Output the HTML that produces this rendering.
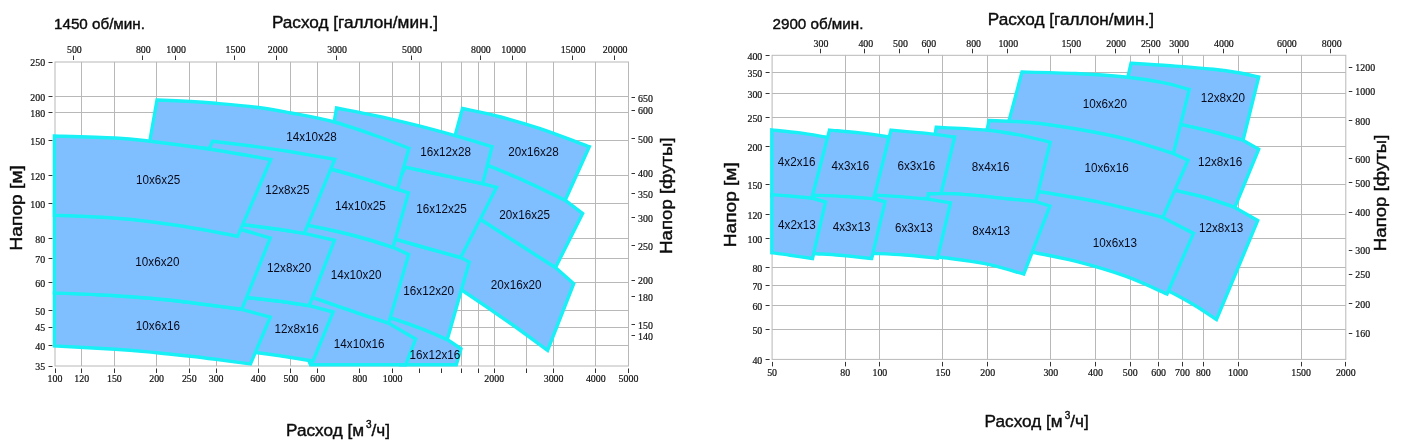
<!DOCTYPE html>
<html lang="ru"><head><meta charset="utf-8"><title>Расход / Напор</title>
<style>html,body{margin:0;padding:0;background:#fff}svg{display:block}</style></head>
<body>
<svg width="1402" height="442" viewBox="0 0 1402 442">
<rect width="1402" height="442" fill="#fff"/>
<path d="M81.5 62.0V366.0M114.5 62.0V366.0M156.5 62.0V366.0M189.5 62.0V366.0M216.5 62.0V366.0M258.5 62.0V366.0M290.5 62.0V366.0M317.5 62.0V366.0M359.5 62.0V366.0M392.5 62.0V366.0M419.5 62.0V366.0M441.5 62.0V366.0M461.5 62.0V366.0M478.5 62.0V366.0M494.5 62.0V366.0M526.5 62.0V366.0M553.5 62.0V366.0M595.5 62.0V366.0M55.0 345.5H628.5M55.0 327.5H628.5M55.0 310.5H628.5M55.0 282.5H628.5M55.0 258.5H628.5M55.0 238.5H628.5M55.0 203.5H628.5M55.0 175.5H628.5M55.0 140.5H628.5M55.0 112.5H628.5M55.0 96.5H628.5" stroke="#b8b8b8" stroke-width="1" fill="none"/>
<rect x="55.0" y="62.0" width="573.5" height="304.0" fill="none" stroke="#b8b8b8" stroke-width="1"/>
<path d="M55.5 368.5v4.5M81.5 368.5v4.5M114.5 368.5v4.5M156.5 368.5v4.5M189.5 368.5v4.5M216.5 368.5v4.5M258.5 368.5v4.5M290.5 368.5v4.5M317.5 368.5v4.5M359.5 368.5v4.5M392.5 368.5v4.5M494.5 368.5v4.5M553.5 368.5v4.5M595.5 368.5v4.5M628.5 368.5v4.5M419.5 368.5v4.5M441.5 368.5v4.5M461.5 368.5v4.5M478.5 368.5v4.5M526.5 368.5v4.5M73.5 60.0v-4.5M142.5 60.0v-4.5M175.5 60.0v-4.5M234.5 60.0v-4.5M276.5 60.0v-4.5M336.5 60.0v-4.5M411.5 60.0v-4.5M480.5 60.0v-4.5M512.5 60.0v-4.5M572.5 60.0v-4.5M614.5 60.0v-4.5M52.5 366.5h-4M52.5 345.5h-4M52.5 327.5h-4M52.5 310.5h-4M52.5 282.5h-4M52.5 258.5h-4M52.5 238.5h-4M52.5 203.5h-4M52.5 175.5h-4M52.5 140.5h-4M52.5 112.5h-4M52.5 96.5h-4M52.5 62.5h-4M631.5 335.5h3.5M631.5 324.5h3.5M631.5 296.5h3.5M631.5 280.5h3.5M631.5 245.5h3.5M631.5 217.5h3.5M631.5 193.5h3.5M631.5 173.5h3.5M631.5 138.5h3.5M631.5 110.5h3.5M631.5 97.5h3.5" stroke="#333" stroke-width="1" fill="none"/>
<g font-family="'Liberation Serif','DejaVu Serif',serif" font-size="9.9" fill="#111" stroke="#111" stroke-width="0.2">
<text transform="translate(55.0 382.3) scale(1 1.12)" text-anchor="middle">100</text>
<text transform="translate(81.7 382.3) scale(1 1.12)" text-anchor="middle">120</text>
<text transform="translate(114.4 382.3) scale(1 1.12)" text-anchor="middle">150</text>
<text transform="translate(156.6 382.3) scale(1 1.12)" text-anchor="middle">200</text>
<text transform="translate(189.3 382.3) scale(1 1.12)" text-anchor="middle">250</text>
<text transform="translate(216.1 382.3) scale(1 1.12)" text-anchor="middle">300</text>
<text transform="translate(258.2 382.3) scale(1 1.12)" text-anchor="middle">400</text>
<text transform="translate(290.9 382.3) scale(1 1.12)" text-anchor="middle">500</text>
<text transform="translate(317.7 382.3) scale(1 1.12)" text-anchor="middle">600</text>
<text transform="translate(359.8 382.3) scale(1 1.12)" text-anchor="middle">800</text>
<text transform="translate(392.6 382.3) scale(1 1.12)" text-anchor="middle">1000</text>
<text transform="translate(494.2 382.3) scale(1 1.12)" text-anchor="middle">2000</text>
<text transform="translate(553.6 382.3) scale(1 1.12)" text-anchor="middle">3000</text>
<text transform="translate(595.8 382.3) scale(1 1.12)" text-anchor="middle">4000</text>
<text transform="translate(628.5 382.3) scale(1 1.12)" text-anchor="middle">5000</text>
<text transform="translate(74.4 53.2) scale(1 1.12)" text-anchor="middle">500</text>
<text transform="translate(143.3 53.2) scale(1 1.12)" text-anchor="middle">800</text>
<text transform="translate(176.1 53.2) scale(1 1.12)" text-anchor="middle">1000</text>
<text transform="translate(235.5 53.2) scale(1 1.12)" text-anchor="middle">1500</text>
<text transform="translate(277.7 53.2) scale(1 1.12)" text-anchor="middle">2000</text>
<text transform="translate(337.1 53.2) scale(1 1.12)" text-anchor="middle">3000</text>
<text transform="translate(412.0 53.2) scale(1 1.12)" text-anchor="middle">5000</text>
<text transform="translate(480.9 53.2) scale(1 1.12)" text-anchor="middle">8000</text>
<text transform="translate(513.6 53.2) scale(1 1.12)" text-anchor="middle">10000</text>
<text transform="translate(573.1 53.2) scale(1 1.12)" text-anchor="middle">15000</text>
<text transform="translate(615.2 53.2) scale(1 1.12)" text-anchor="middle">20000</text>
<text transform="translate(45.2 370.3) scale(1 1.12)" text-anchor="end">35</text>
<text transform="translate(45.2 349.7) scale(1 1.12)" text-anchor="end">40</text>
<text transform="translate(45.2 331.4) scale(1 1.12)" text-anchor="end">45</text>
<text transform="translate(45.2 315.2) scale(1 1.12)" text-anchor="end">50</text>
<text transform="translate(45.2 287.0) scale(1 1.12)" text-anchor="end">60</text>
<text transform="translate(45.2 263.1) scale(1 1.12)" text-anchor="end">70</text>
<text transform="translate(45.2 242.5) scale(1 1.12)" text-anchor="end">80</text>
<text transform="translate(45.2 208.0) scale(1 1.12)" text-anchor="end">100</text>
<text transform="translate(45.2 179.8) scale(1 1.12)" text-anchor="end">120</text>
<text transform="translate(45.2 145.3) scale(1 1.12)" text-anchor="end">150</text>
<text transform="translate(45.2 117.1) scale(1 1.12)" text-anchor="end">180</text>
<text transform="translate(45.2 100.8) scale(1 1.12)" text-anchor="end">200</text>
<text transform="translate(45.2 66.3) scale(1 1.12)" text-anchor="end">250</text>
<text transform="translate(638.0 339.5) scale(1 1.12)">140</text>
<text transform="translate(638.0 328.8) scale(1 1.12)">150</text>
<text transform="translate(638.0 300.6) scale(1 1.12)">180</text>
<text transform="translate(638.0 284.3) scale(1 1.12)">200</text>
<text transform="translate(638.0 249.8) scale(1 1.12)">250</text>
<text transform="translate(638.0 221.6) scale(1 1.12)">300</text>
<text transform="translate(638.0 197.8) scale(1 1.12)">350</text>
<text transform="translate(638.0 177.1) scale(1 1.12)">400</text>
<text transform="translate(638.0 142.6) scale(1 1.12)">500</text>
<text transform="translate(638.0 114.4) scale(1 1.12)">600</text>
<text transform="translate(638.0 102.1) scale(1 1.12)">650</text>
</g>
<clipPath id="cl"><rect x="52.0" y="59.0" width="579.5" height="308.2"/></clipPath>
<g clip-path="url(#cl)" fill="#80bfff" stroke="#18f0f5" stroke-width="3.4" stroke-linejoin="miter">
<path d="" stroke="none"/>
<path d="M450.0 200.0 C455.3 203.4 470.6 213.0 482.0 220.3 C493.4 227.6 506.2 235.9 518.5 243.8 C530.8 251.7 549.3 263.6 555.5 267.5 L573.7 283.7 L547.6 350.3 C541.3 345.8 524.1 332.9 510.0 323.0 C495.9 313.1 474.9 298.8 463.2 291.0 C451.5 283.2 443.9 278.5 440.0 276.0Z"/>
<path d="M451.0 150.5 C457.2 153.0 475.9 160.3 488.2 165.4 C500.5 170.5 512.2 175.2 525.0 181.0 C537.8 186.8 558.5 197.1 565.2 200.3 L582.6 213.5 L555.5 267.5 C549.3 263.6 530.8 251.7 518.5 243.8 C506.2 235.9 493.4 227.6 482.0 220.3 C470.6 213.0 455.3 203.4 450.0 200.0Z"/>
<path d="M462.5 108.5 C468.9 109.9 488.2 113.7 500.9 117.0 C513.6 120.3 523.8 123.2 538.5 128.2 C553.2 133.1 580.8 143.6 589.3 146.7 L565.2 200.3 C558.5 197.1 537.8 186.8 525.0 181.0 C512.2 175.2 500.5 170.5 488.2 165.4 C475.9 160.3 457.2 153.0 451.0 150.5Z"/>
<path d="M360.0 307.0 C365.6 309.0 383.9 315.3 393.9 318.8 C403.9 322.3 411.1 324.6 420.0 328.0 C428.9 331.4 442.8 337.6 447.3 339.5 L461.0 348.8 L456.3 364.7 C446.9 364.7 409.4 364.7 400.0 364.7Z"/>
<path d="M370.0 232.0 C374.5 233.3 387.1 236.9 397.1 239.7 C407.1 242.5 419.4 246.0 430.0 249.0 C440.6 252.0 455.6 256.1 460.7 257.5 L469.3 262.0 L447.3 339.5 C442.8 337.6 428.9 331.4 420.0 328.0 C411.1 324.6 403.9 322.3 393.9 318.8 C383.9 315.3 365.6 309.0 360.0 307.0Z"/>
<path d="M405.6 167.2 C413.0 168.8 437.1 173.9 450.0 176.7 C462.9 179.4 477.2 182.5 482.7 183.7 L496.5 187.4 L460.7 257.5 C455.6 256.1 440.6 252.0 430.0 249.0 C419.4 246.0 407.1 242.5 397.1 239.7 C387.1 236.9 374.5 233.3 370.0 232.0Z"/>
<path d="M336.5 108.0 C343.0 109.3 362.6 112.9 375.3 115.6 C388.1 118.3 400.4 121.3 413.0 124.4 C425.6 127.5 437.4 130.7 450.6 134.4 C463.8 138.1 485.1 144.6 492.0 146.7 L482.7 183.7 C477.2 182.5 462.9 179.4 450.0 176.7 C437.1 173.9 425.7 171.6 405.6 167.2 C385.5 162.8 342.2 152.9 329.5 150.0Z"/>
<path d="M280.0 287.0 C285.6 288.8 302.7 294.3 313.6 297.9 C324.5 301.5 332.7 304.5 345.2 308.7 C357.7 312.9 381.4 320.8 388.7 323.2 L415.6 339.0 L405.8 364.7 C389.9 364.7 326.4 364.7 310.5 364.7Z"/>
<path d="M270.0 218.0 C276.4 219.2 297.0 223.0 308.7 225.3 C320.4 227.6 329.8 229.6 340.0 232.0 C350.2 234.4 361.2 237.4 370.0 240.0 C378.8 242.6 389.2 246.1 393.0 247.3 L408.7 254.5 L388.7 323.2 C381.4 320.8 357.7 312.9 345.2 308.7 C332.7 304.5 324.5 301.5 313.6 297.9 C302.7 294.3 285.6 288.8 280.0 287.0Z"/>
<path d="M280.0 157.0 C288.8 159.1 317.6 165.6 332.6 169.5 C347.6 173.4 359.2 177.0 370.0 180.3 C380.8 183.6 392.9 187.8 397.5 189.3 L408.5 192.8 L393.0 247.3 C389.2 246.1 378.8 242.6 370.0 240.0 C361.2 237.4 350.2 234.4 340.0 232.0 C329.8 229.6 320.4 227.6 308.7 225.3 C297.0 223.0 276.4 219.2 270.0 218.0Z"/>
<path d="M157.0 100.0 C162.6 100.2 180.8 101.0 190.6 101.5 C200.4 102.0 204.5 102.3 215.8 103.3 C227.1 104.3 245.9 105.9 258.4 107.5 C270.9 109.1 278.6 110.7 291.0 113.0 C303.4 115.3 318.4 117.8 332.5 121.5 C346.6 125.2 362.6 131.0 375.3 135.5 C388.1 140.0 403.4 146.2 409.0 148.3 L397.5 189.3 C392.9 187.8 380.8 183.6 370.0 180.3 C359.2 177.0 347.6 173.4 332.6 169.5 C317.6 165.6 299.6 160.4 280.0 157.0 C260.4 153.6 236.8 151.3 215.0 149.0 C193.2 146.7 160.4 144.0 149.5 143.0Z"/>
<path d="M200.0 292.0 C208.1 292.9 235.5 296.1 248.8 297.7 C262.1 299.2 269.9 300.0 280.0 301.3 C290.1 302.6 304.3 304.9 309.2 305.6 L333.2 312.0 L313.0 361.0 C308.3 360.2 293.9 357.8 285.0 356.5 C276.1 355.2 270.5 354.3 259.7 353.0 C248.9 351.7 226.6 349.2 220.0 348.5Z"/>
<path d="M180.0 218.0 C190.7 219.1 228.6 223.0 244.4 224.8 C260.2 226.6 265.0 227.4 275.0 228.8 C285.0 230.2 299.4 232.6 304.3 233.3 L334.5 240.3 L309.2 305.6 C304.3 304.9 290.1 302.6 280.0 301.3 C269.9 300.0 262.1 299.2 248.8 297.7 C235.5 296.1 208.1 292.9 200.0 292.0Z"/>
<path d="M212.5 141.3 C219.3 142.1 240.3 144.6 253.4 146.3 C266.5 148.1 277.4 149.6 291.0 151.8 C304.6 154.0 327.5 158.1 334.8 159.3 L304.3 233.3 C299.4 232.6 285.0 230.2 275.0 228.8 C265.0 227.4 260.2 226.6 244.4 224.8 C228.6 223.0 190.7 219.1 180.0 218.0Z"/>
<path d="M54.4 293.0 C62.5 293.3 88.5 294.2 102.8 295.0 C117.1 295.8 127.9 296.5 140.4 297.5 C152.9 298.5 165.4 299.6 178.0 301.0 C190.6 302.4 205.1 304.4 215.7 305.8 C226.3 307.2 237.5 308.7 241.8 309.3 L270.3 317.2 L250.5 364.0 C244.7 363.2 225.8 360.6 215.8 359.3 C205.8 358.0 200.4 357.3 190.6 356.2 C180.8 355.1 169.2 353.8 156.7 352.7 C144.1 351.6 132.3 350.4 115.3 349.3 C98.2 348.2 64.5 346.6 54.4 346.0Z"/>
<path d="M54.4 205.0 C70.3 206.2 123.2 208.9 150.0 212.0 C176.8 215.1 199.3 220.4 215.0 223.5 C230.7 226.6 235.2 228.1 244.4 230.5 C253.6 232.9 266.0 236.8 270.3 238.0 L241.8 309.3 C237.5 308.7 226.3 307.2 215.7 305.8 C205.1 304.4 190.6 302.4 178.0 301.0 C165.4 299.6 152.9 298.5 140.4 297.5 C127.9 296.5 117.1 295.8 102.8 295.0 C88.5 294.2 62.5 293.3 54.4 293.0Z"/>
<path d="M54.4 136.0 C64.5 136.3 99.4 137.2 115.0 138.0 C130.6 138.8 132.2 139.1 148.0 141.0 C163.8 142.9 189.5 146.2 210.0 149.3 C230.5 152.4 260.7 157.8 270.8 159.5 L237.6 236.3 C233.9 235.6 225.6 233.8 215.7 232.0 C205.8 230.2 190.6 227.4 178.0 225.5 C165.4 223.6 152.9 221.9 140.4 220.5 C127.9 219.1 117.1 218.2 102.8 217.3 C88.5 216.4 62.5 215.6 54.4 215.3Z"/>
</g>
<g font-family="'Liberation Sans','DejaVu Sans',sans-serif" font-size="13.3" fill="#0a0a1a" text-anchor="middle">
<text x="158.1" y="184.4" textLength="44.2" lengthAdjust="spacingAndGlyphs">10x6x25</text>
<text x="157.4" y="266.3" textLength="44.2" lengthAdjust="spacingAndGlyphs">10x6x20</text>
<text x="157.9" y="329.5" textLength="44.2" lengthAdjust="spacingAndGlyphs">10x6x16</text>
<text x="287.3" y="193.5" textLength="44.2" lengthAdjust="spacingAndGlyphs">12x8x25</text>
<text x="289.2" y="271.5" textLength="44.2" lengthAdjust="spacingAndGlyphs">12x8x20</text>
<text x="296.7" y="333.0" textLength="44.2" lengthAdjust="spacingAndGlyphs">12x8x16</text>
<text x="311.5" y="141.2" textLength="50.7" lengthAdjust="spacingAndGlyphs">14x10x28</text>
<text x="360.4" y="209.8" textLength="50.7" lengthAdjust="spacingAndGlyphs">14x10x25</text>
<text x="356.1" y="278.7" textLength="50.7" lengthAdjust="spacingAndGlyphs">14x10x20</text>
<text x="359.2" y="347.6" textLength="50.7" lengthAdjust="spacingAndGlyphs">14x10x16</text>
<text x="445.6" y="155.7" textLength="50.7" lengthAdjust="spacingAndGlyphs">16x12x28</text>
<text x="441.5" y="212.9" textLength="50.7" lengthAdjust="spacingAndGlyphs">16x12x25</text>
<text x="428.7" y="295.3" textLength="50.7" lengthAdjust="spacingAndGlyphs">16x12x20</text>
<text x="434.9" y="358.7" textLength="50.7" lengthAdjust="spacingAndGlyphs">16x12x16</text>
<text x="533.5" y="156.3" textLength="50.7" lengthAdjust="spacingAndGlyphs">20x16x28</text>
<text x="524.7" y="218.6" textLength="50.7" lengthAdjust="spacingAndGlyphs">20x16x25</text>
<text x="516.2" y="289.1" textLength="50.7" lengthAdjust="spacingAndGlyphs">20x16x20</text>
</g>
<path d="M845.5 55.3V359.4M879.5 55.3V359.4M942.5 55.3V359.4M987.5 55.3V359.4M1050.5 55.3V359.4M1095.5 55.3V359.4M1130.5 55.3V359.4M1158.5 55.3V359.4M1182.5 55.3V359.4M1203.5 55.3V359.4M1238.5 55.3V359.4M1301.5 55.3V359.4M772.1 329.5H1345.8M772.1 305.5H1345.8M772.1 285.5H1345.8M772.1 267.5H1345.8M772.1 238.5H1345.8M772.1 214.5H1345.8M772.1 184.5H1345.8M772.1 146.5H1345.8M772.1 117.5H1345.8M772.1 93.5H1345.8M772.1 72.5H1345.8" stroke="#b8b8b8" stroke-width="1" fill="none"/>
<rect x="772.1" y="55.3" width="573.7" height="304.1" fill="none" stroke="#b8b8b8" stroke-width="1"/>
<path d="M772.5 361.9v4.5M845.5 361.9v4.5M879.5 361.9v4.5M942.5 361.9v4.5M987.5 361.9v4.5M1050.5 361.9v4.5M1095.5 361.9v4.5M1130.5 361.9v4.5M1158.5 361.9v4.5M1182.5 361.9v4.5M1203.5 361.9v4.5M1238.5 361.9v4.5M1301.5 361.9v4.5M1345.5 361.9v4.5M820.5 53.3v-4.5M864.5 53.3v-4.5M899.5 53.3v-4.5M928.5 53.3v-4.5M972.5 53.3v-4.5M1007.5 53.3v-4.5M1070.5 53.3v-4.5M1115.5 53.3v-4.5M1149.5 53.3v-4.5M1178.5 53.3v-4.5M1223.5 53.3v-4.5M1286.5 53.3v-4.5M1330.5 53.3v-4.5M769.6 359.5h-4M769.6 329.5h-4M769.6 305.5h-4M769.6 285.5h-4M769.6 267.5h-4M769.6 238.5h-4M769.6 214.5h-4M769.6 184.5h-4M769.6 146.5h-4M769.6 117.5h-4M769.6 93.5h-4M769.6 72.5h-4M769.6 55.5h-4M1348.8 333.5h3.5M1348.8 303.5h3.5M1348.8 274.5h3.5M1348.8 250.5h3.5M1348.8 212.5h3.5M1348.8 182.5h3.5M1348.8 158.5h3.5M1348.8 120.5h3.5M1348.8 91.5h3.5M1348.8 67.5h3.5" stroke="#333" stroke-width="1" fill="none"/>
<g font-family="'Liberation Serif','DejaVu Serif',serif" font-size="9.9" fill="#111" stroke="#111" stroke-width="0.2">
<text transform="translate(772.1 375.7) scale(1 1.12)" text-anchor="middle">50</text>
<text transform="translate(845.2 375.7) scale(1 1.12)" text-anchor="middle">80</text>
<text transform="translate(879.9 375.7) scale(1 1.12)" text-anchor="middle">100</text>
<text transform="translate(943.0 375.7) scale(1 1.12)" text-anchor="middle">150</text>
<text transform="translate(987.7 375.7) scale(1 1.12)" text-anchor="middle">200</text>
<text transform="translate(1050.8 375.7) scale(1 1.12)" text-anchor="middle">300</text>
<text transform="translate(1095.5 375.7) scale(1 1.12)" text-anchor="middle">400</text>
<text transform="translate(1130.2 375.7) scale(1 1.12)" text-anchor="middle">500</text>
<text transform="translate(1158.6 375.7) scale(1 1.12)" text-anchor="middle">600</text>
<text transform="translate(1182.5 375.7) scale(1 1.12)" text-anchor="middle">700</text>
<text transform="translate(1203.3 375.7) scale(1 1.12)" text-anchor="middle">800</text>
<text transform="translate(1238.0 375.7) scale(1 1.12)" text-anchor="middle">1000</text>
<text transform="translate(1301.1 375.7) scale(1 1.12)" text-anchor="middle">1500</text>
<text transform="translate(1345.8 375.7) scale(1 1.12)" text-anchor="middle">2000</text>
<text transform="translate(821.0 46.5) scale(1 1.12)" text-anchor="middle">300</text>
<text transform="translate(865.8 46.5) scale(1 1.12)" text-anchor="middle">400</text>
<text transform="translate(900.5 46.5) scale(1 1.12)" text-anchor="middle">500</text>
<text transform="translate(928.8 46.5) scale(1 1.12)" text-anchor="middle">600</text>
<text transform="translate(973.6 46.5) scale(1 1.12)" text-anchor="middle">800</text>
<text transform="translate(1008.3 46.5) scale(1 1.12)" text-anchor="middle">1000</text>
<text transform="translate(1071.3 46.5) scale(1 1.12)" text-anchor="middle">1500</text>
<text transform="translate(1116.1 46.5) scale(1 1.12)" text-anchor="middle">2000</text>
<text transform="translate(1150.8 46.5) scale(1 1.12)" text-anchor="middle">2500</text>
<text transform="translate(1179.1 46.5) scale(1 1.12)" text-anchor="middle">3000</text>
<text transform="translate(1223.9 46.5) scale(1 1.12)" text-anchor="middle">4000</text>
<text transform="translate(1286.9 46.5) scale(1 1.12)" text-anchor="middle">6000</text>
<text transform="translate(1331.7 46.5) scale(1 1.12)" text-anchor="middle">8000</text>
<text transform="translate(762.3 363.7) scale(1 1.12)" text-anchor="end">40</text>
<text transform="translate(762.3 334.2) scale(1 1.12)" text-anchor="end">50</text>
<text transform="translate(762.3 310.2) scale(1 1.12)" text-anchor="end">60</text>
<text transform="translate(762.3 289.8) scale(1 1.12)" text-anchor="end">70</text>
<text transform="translate(762.3 272.2) scale(1 1.12)" text-anchor="end">80</text>
<text transform="translate(762.3 242.7) scale(1 1.12)" text-anchor="end">100</text>
<text transform="translate(762.3 218.6) scale(1 1.12)" text-anchor="end">120</text>
<text transform="translate(762.3 189.1) scale(1 1.12)" text-anchor="end">150</text>
<text transform="translate(762.3 151.1) scale(1 1.12)" text-anchor="end">200</text>
<text transform="translate(762.3 121.7) scale(1 1.12)" text-anchor="end">250</text>
<text transform="translate(762.3 97.6) scale(1 1.12)" text-anchor="end">300</text>
<text transform="translate(762.3 77.2) scale(1 1.12)" text-anchor="end">350</text>
<text transform="translate(762.3 59.6) scale(1 1.12)" text-anchor="end">400</text>
<text transform="translate(1355.3 337.3) scale(1 1.12)">160</text>
<text transform="translate(1355.3 307.9) scale(1 1.12)">200</text>
<text transform="translate(1355.3 278.4) scale(1 1.12)">250</text>
<text transform="translate(1355.3 254.3) scale(1 1.12)">300</text>
<text transform="translate(1355.3 216.3) scale(1 1.12)">400</text>
<text transform="translate(1355.3 186.8) scale(1 1.12)">500</text>
<text transform="translate(1355.3 162.8) scale(1 1.12)">600</text>
<text transform="translate(1355.3 124.8) scale(1 1.12)">800</text>
<text transform="translate(1355.3 95.3) scale(1 1.12)">1000</text>
<text transform="translate(1355.3 71.2) scale(1 1.12)">1200</text>
</g>
<clipPath id="cr"><rect x="769.1" y="52.3" width="579.7" height="308.3"/></clipPath>
<g clip-path="url(#cr)" fill="#80bfff" stroke="#18f0f5" stroke-width="3.4" stroke-linejoin="miter">
<path d="" stroke="none"/>
<path d="M1131.0 63.3 C1138.5 63.8 1162.0 65.1 1175.7 66.1 C1189.4 67.1 1202.9 68.2 1213.4 69.3 C1223.9 70.4 1231.0 71.5 1238.5 72.8 C1246.0 74.1 1255.3 76.3 1258.7 77.0 L1243.0 140.3 C1238.3 139.0 1225.3 135.1 1215.0 132.5 C1204.7 129.9 1196.9 128.1 1181.1 124.7 C1165.3 121.3 1130.2 114.1 1120.0 112.0Z"/>
<path d="M1120.0 112.0 C1130.2 114.1 1165.3 121.3 1181.1 124.7 C1196.9 128.1 1204.7 129.9 1215.0 132.5 C1225.3 135.1 1238.3 139.0 1243.0 140.3 L1258.7 149.2 L1234.8 207.5 C1229.8 205.8 1214.8 200.3 1205.0 197.5 C1195.2 194.7 1184.9 192.5 1175.7 190.5 C1166.5 188.5 1154.3 186.3 1150.0 185.5Z"/>
<path d="M1150.0 185.5 C1154.3 186.3 1166.5 188.5 1175.7 190.5 C1184.9 192.5 1195.2 194.7 1205.0 197.5 C1214.8 200.3 1229.8 205.8 1234.8 207.5 L1257.7 220.6 L1216.5 319.5 C1212.9 317.2 1202.6 310.1 1195.0 305.5 C1187.4 300.9 1178.2 295.9 1170.7 292.0 C1163.2 288.1 1153.5 283.7 1150.0 282.0Z"/>
<path d="M1022.0 72.0 C1030.9 72.2 1058.0 72.7 1075.3 73.5 C1092.5 74.3 1110.8 75.5 1125.5 77.0 C1140.2 78.5 1152.6 80.6 1163.2 82.7 C1173.8 84.8 1185.0 88.4 1189.3 89.5 L1173.2 154.3 C1165.2 151.9 1141.8 143.8 1125.5 139.7 C1109.2 135.6 1091.2 132.3 1075.3 129.6 C1059.4 126.9 1041.1 124.5 1030.0 123.3 C1018.9 122.1 1012.1 122.6 1008.5 122.5Z"/>
<path d="M989.0 120.5 C995.8 120.8 1015.6 121.1 1030.0 122.5 C1044.4 123.9 1059.4 126.1 1075.3 128.8 C1091.2 131.5 1109.2 134.8 1125.5 138.9 C1141.8 143.0 1165.2 151.1 1173.2 153.5 L1188.0 160.3 L1162.5 218.1 C1152.2 215.6 1121.0 207.4 1100.4 203.1 C1079.8 198.8 1052.3 194.7 1038.9 192.3 C1025.5 189.9 1030.5 190.2 1020.0 188.8 C1009.5 187.4 983.3 184.8 976.0 184.0Z"/>
<path d="M1020.0 188.0 C1023.1 188.6 1025.5 189.1 1038.9 191.5 C1052.3 193.9 1079.8 198.0 1100.4 202.3 C1121.0 206.6 1152.2 214.8 1162.5 217.3 L1193.5 233.4 L1167.0 294.0 C1160.1 291.0 1140.8 281.7 1125.5 276.2 C1110.2 270.7 1090.6 265.1 1075.3 261.2 C1060.0 257.2 1044.8 254.7 1033.9 252.5 C1023.0 250.3 1014.0 248.8 1010.0 248.0Z"/>
<path d="M936.2 127.3 C944.5 127.8 971.4 128.6 986.0 130.0 C1000.6 131.4 1012.9 133.8 1023.6 135.8 C1034.3 137.9 1045.8 141.2 1050.2 142.3 L1035.8 201.6 C1030.7 201.1 1017.8 199.8 1005.2 198.6 C992.6 197.3 973.2 195.0 960.0 194.1 C946.8 193.2 931.7 193.2 926.0 193.0Z"/>
<path d="M771.8 129.9 C776.5 130.4 790.6 131.7 800.0 132.9 C809.4 134.2 823.3 136.7 828.0 137.4 L813.0 200.0 C809.2 199.7 796.9 198.6 790.0 198.0 C783.1 197.4 774.8 196.8 771.8 196.5Z"/>
<path d="M829.5 130.1 C834.6 130.6 850.1 131.8 860.0 132.9 C869.9 134.0 884.2 136.2 889.0 136.9 L875.0 200.0 C870.0 199.8 855.6 198.6 845.0 198.5 C834.4 198.4 817.1 199.3 811.5 199.5Z"/>
<path d="M891.0 130.1 C896.2 130.6 911.4 131.8 922.0 132.9 C932.6 134.1 949.2 136.3 954.7 137.0 L940.0 198.0 C934.2 198.2 916.1 198.7 905.0 199.0 C893.9 199.3 878.6 199.8 873.3 200.0Z"/>
<path d="M928.3 193.7 C933.6 193.8 947.2 193.3 960.0 194.1 C972.8 194.9 992.6 197.3 1005.2 198.6 C1017.8 199.8 1030.7 201.1 1035.8 201.6 L1049.9 206.0 L1023.8 274.0 C1017.3 272.3 998.8 266.5 985.0 263.7 C971.2 260.9 950.6 258.6 940.8 257.2 C931.0 255.8 928.5 255.6 926.0 255.3Z"/>
<path d="M877.0 195.2 C881.7 195.5 896.7 196.4 905.2 197.1 C913.7 197.8 924.1 198.8 927.9 199.1 L950.5 202.8 L937.5 258.2 C932.1 257.7 915.3 255.8 905.0 255.0 C894.7 254.2 883.0 253.8 875.5 253.5 C868.0 253.2 862.6 253.1 860.0 253.0Z"/>
<path d="M814.8 195.2 C819.8 195.4 835.2 195.9 845.0 196.5 C854.8 197.1 868.8 198.4 873.6 198.8 L885.1 201.8 L871.7 258.5 C866.4 257.9 849.2 256.0 840.0 255.2 C830.8 254.4 823.2 254.1 816.5 253.7 C809.8 253.3 802.8 253.1 800.0 253.0Z"/>
<path d="M771.8 194.6 C774.8 194.8 783.3 195.4 790.0 196.0 C796.7 196.6 808.2 197.8 811.9 198.2 L825.5 202.0 L812.5 258.5 C808.8 257.9 796.8 256.2 790.0 255.2 C783.2 254.2 774.8 253.1 771.8 252.7Z"/>
</g>
<g font-family="'Liberation Sans','DejaVu Sans',sans-serif" font-size="13.3" fill="#0a0a1a" text-anchor="middle">
<text x="796.7" y="165.7" textLength="37.7" lengthAdjust="spacingAndGlyphs">4x2x16</text>
<text x="850.4" y="169.9" textLength="37.7" lengthAdjust="spacingAndGlyphs">4x3x16</text>
<text x="916.3" y="169.9" textLength="37.7" lengthAdjust="spacingAndGlyphs">6x3x16</text>
<text x="990.7" y="170.7" textLength="37.7" lengthAdjust="spacingAndGlyphs">8x4x16</text>
<text x="796.9" y="229.1" textLength="37.7" lengthAdjust="spacingAndGlyphs">4x2x13</text>
<text x="851.6" y="231.1" textLength="37.7" lengthAdjust="spacingAndGlyphs">4x3x13</text>
<text x="913.8" y="231.7" textLength="37.7" lengthAdjust="spacingAndGlyphs">6x3x13</text>
<text x="991.2" y="234.9" textLength="37.7" lengthAdjust="spacingAndGlyphs">8x4x13</text>
<text x="1104.8" y="108.2" textLength="44.2" lengthAdjust="spacingAndGlyphs">10x6x20</text>
<text x="1222.8" y="101.7" textLength="44.2" lengthAdjust="spacingAndGlyphs">12x8x20</text>
<text x="1106.6" y="171.9" textLength="44.2" lengthAdjust="spacingAndGlyphs">10x6x16</text>
<text x="1220.1" y="166.2" textLength="44.2" lengthAdjust="spacingAndGlyphs">12x8x16</text>
<text x="1114.9" y="247.0" textLength="44.2" lengthAdjust="spacingAndGlyphs">10x6x13</text>
<text x="1221.1" y="231.7" textLength="44.2" lengthAdjust="spacingAndGlyphs">12x8x13</text>
</g>
<g font-family="'Liberation Sans','DejaVu Sans',sans-serif" fill="#0c0c0c" stroke="#0c0c0c" stroke-width="0.4" font-size="17.2">
<text x="54" y="29" font-size="15.2">1450 об/мин.</text>
<text x="772.5" y="29.1" font-size="15.2">2900 об/мин.</text>
<text x="355" y="28.1" text-anchor="middle">Расход [галлон/мин.]</text>
<text x="1070.9" y="24.9" text-anchor="middle">Расход [галлон/мин.]</text>
<text x="286" y="436.2">Расход [м<tspan dy="-8" font-size="10" dx="2">3</tspan><tspan dy="8">/ч]</tspan></text>
<text x="984.6" y="427.4">Расход [м<tspan dy="-8" font-size="10" dx="2">3</tspan><tspan dy="8">/ч]</tspan></text>
<text transform="translate(21.7,207.8) rotate(-90)" text-anchor="middle" textLength="85.5" lengthAdjust="spacingAndGlyphs">Напор [м]</text>
<text transform="translate(735.6,204.7) rotate(-90)" text-anchor="middle" textLength="85" lengthAdjust="spacingAndGlyphs">Напор [м]</text>
<text transform="translate(671.9,195.6) rotate(-90)" text-anchor="middle" textLength="116.6" lengthAdjust="spacingAndGlyphs">Напор [футы]</text>
<text transform="translate(1386.1,192.9) rotate(-90)" text-anchor="middle" textLength="116.6" lengthAdjust="spacingAndGlyphs">Напор [футы]</text>
</g>
</svg>
</body></html>
